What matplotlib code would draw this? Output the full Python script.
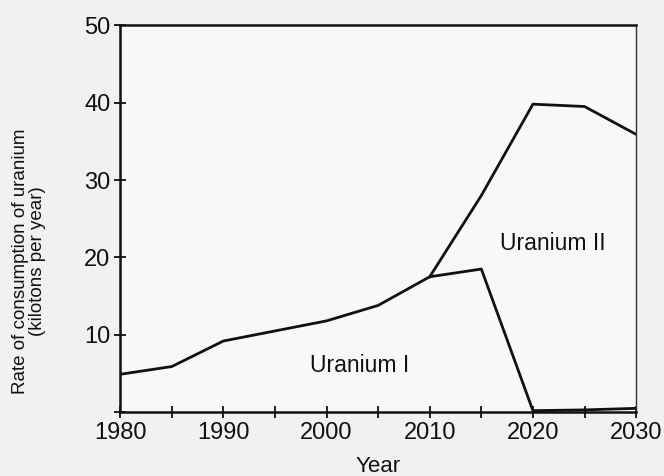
import matplotlib.pyplot as plt
from matplotlib.ticker import MultipleLocator

# consumption of uranium, kilotons per year
years_u1 = [1980, 1985, 1990, 1995, 2000, 2005, 2010, 2015, 2020, 2025, 2030]
uranium_1 = [4.9, 5.9, 9.2, 10.5, 11.8, 13.8, 17.5, 18.5, 0.2, 0.3, 0.5]
years_u2 = [2010, 2015, 2020, 2025, 2030]
uranium_2 = [17.5, 28.0, 39.8, 39.5, 35.9]

xticks = [1980, 1990, 2000, 2010, 2020, 2030]
yticks = [10, 20, 30, 40, 50]

plt.rcParams['font.family'] = ['Liberation Sans', 'DejaVu Sans']

fig = plt.figure(figsize=(6.64, 4.76), dpi=100, facecolor='#f1f1f1')
ax = fig.add_axes([0.181, 0.134, 0.777, 0.813])
ax.set_facecolor('#f8f8f8')

ax.plot(years_u1, uranium_1, color='#111111', lw=2)
ax.plot(years_u2, uranium_2, color='#111111', lw=2)

ax.set_xlim(1980, 2030)
ax.set_ylim(0, 50)
ax.set_xticks(xticks)
ax.set_yticks(yticks)
ax.xaxis.set_minor_locator(MultipleLocator(5))
ax.yaxis.set_minor_locator(MultipleLocator(10))
ax.tick_params(which='both', direction='inout', length=8, width=1.3,
               color='#111111', labelsize=17, labelcolor='#111111')
ax.tick_params(axis='x', pad=3)
ax.tick_params(axis='y', pad=3)

for side in ['left', 'bottom', 'top']:
    ax.spines[side].set_linewidth(1.8)
    ax.spines[side].set_color('#111111')
ax.spines['right'].set_linewidth(1.0)
ax.spines['right'].set_color('#333333')
ax.spines['right'].set_linestyle((0, (4, 1)))

ax.text(2016.8, 21.8, 'Uranium II', fontsize=16.5, color='#111111', va='center')
ax.text(1998.4, 6.1, 'Uranium I', fontsize=16.5, color='#111111', va='center')

ax.set_xlabel('Year', fontsize=16, color='#111111')
ax.xaxis.set_label_coords(0.5, -0.113)
ax.set_ylabel('Rate of consumption of uranium\n(kilotons per year)',
              fontsize=13.5, linespacing=1.05, color='#111111')
ax.yaxis.set_label_coords(-0.143, 0.39)

fig.savefig('out.png', dpi=100, facecolor=fig.get_facecolor())
